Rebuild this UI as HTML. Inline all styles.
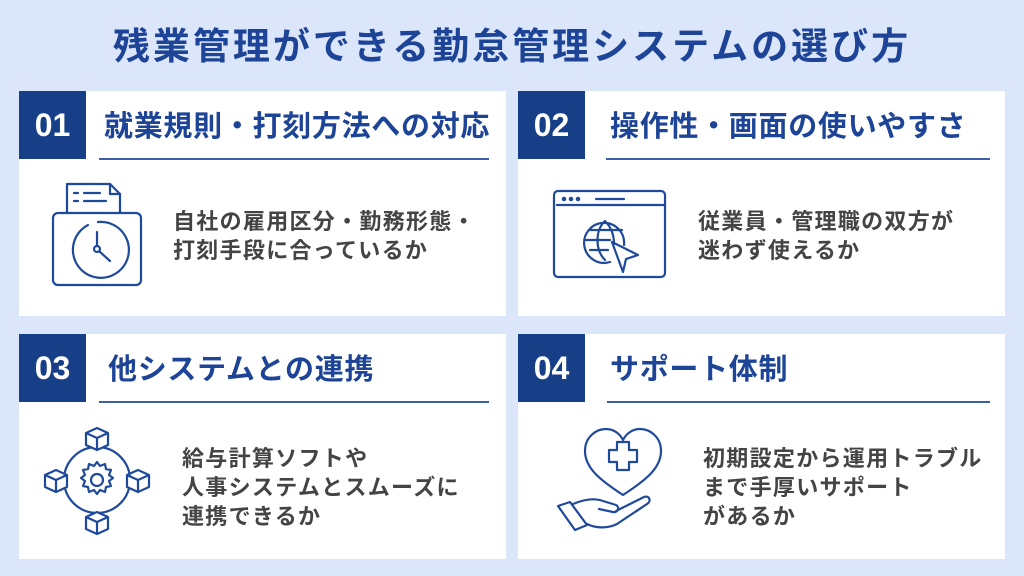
<!DOCTYPE html>
<html><head><meta charset="utf-8"><style>
body{margin:0;width:1024px;height:576px;background:#dce6fb;position:relative;overflow:hidden;font-family:"Liberation Sans","Noto Sans CJK JP",sans-serif}
.t{position:absolute;left:0;width:1024px;top:22px;text-align:center;font-size:37px;font-weight:bold;color:#1d4497;letter-spacing:3px;line-height:50px}
.card{position:absolute;background:#fff;width:487px;height:225px}
.num{position:absolute;left:0;top:0;width:67px;height:68px;background:#173f88;color:#fff;font-size:32px;font-weight:bold;line-height:68px;text-align:center;font-family:"Liberation Sans",sans-serif}
.h{position:absolute;top:16px;font-size:29px;font-weight:bold;color:#1d4497;line-height:40px;white-space:nowrap;letter-spacing:0.7px}
.ln{position:absolute;top:67px;height:2px;background:#3b5fa8}
.b{position:absolute;font-size:22px;color:#444;line-height:29px;font-weight:bold;white-space:nowrap;letter-spacing:1.3px}
svg{position:absolute;left:0;top:0}
</style></head><body>
<div class="t">残業管理ができる勤怠管理システムの選び方</div>

<div class="card" style="left:19px;top:91px">
<div class="num">01</div><div class="h" style="left:85px">就業規則・打刻方法への対応</div>
<div class="ln" style="left:80px;width:390px"></div>
<div class="b" style="left:154px;top:116px">自社の雇用区分・勤務形態・<br>打刻手段に合っているか</div>
</div>
<div class="card" style="left:518px;top:91px">
<div class="num">02</div><div class="h" style="left:92px">操作性・画面の使いやすさ</div>
<div class="ln" style="left:88px;width:384px"></div>
<div class="b" style="left:180px;top:116px">従業員・管理職の双方が<br>迷わず使えるか</div>
</div>
<div class="card" style="left:19px;top:334px">
<div class="num">03</div><div class="h" style="left:89px">他システムとの連携</div>
<div class="ln" style="left:80px;width:390px"></div>
<div class="b" style="left:163px;top:110px">給与計算ソフトや<br>人事システムとスムーズに<br>連携できるか</div>
</div>
<div class="card" style="left:518px;top:334px">
<div class="num">04</div><div class="h" style="left:92px">サポート体制</div>
<div class="ln" style="left:89px;width:383px"></div>
<div class="b" style="left:185px;top:110px">初期設定から運用トラブル<br>まで手厚いサポート<br>があるか</div>
</div>

<svg width="1024" height="576" fill="none" stroke="#1f4a9c" stroke-width="2.2" stroke-linecap="round" stroke-linejoin="round">
<path d="M67 213 V184 h43 l10 10 v19"/><path d="M110 184 v10 h10"/>
<path d="M74 193h4M84 193h16M74 201h4M84 201h22"/>
<rect x="53" y="213" width="88" height="72" rx="5"/>
<path d="M88 225 A28 28 0 1 0 98 222"/>
<path d="M97 232 V246 M99 251 L110 261"/><circle cx="97" cy="249" r="3"/>
<rect x="554" y="191" width="111" height="86" rx="4"/>
<path d="M557 205H665M596 199h28"/>
<circle cx="564" cy="199" r="1.2" fill="#1f4a9c"/><circle cx="571" cy="199" r="1.2" fill="#1f4a9c"/><circle cx="578" cy="199" r="1.2" fill="#1f4a9c"/>
<path d="M610 262 A20 20 0 1 1 624 245"/><path d="M605 221 C595 230 595 250 605 260 M605 221 C612 228 614 236 614 244 M586 240 H610 M590 230 H622 M590 250 H608"/>
<path d="M612 242 L638 255 L626 259 L623 272 Z"/>
<circle cx="97" cy="480" r="33"/>
<circle cx="97" cy="480" r="6"/>
<path d="M97 462 l3 4 5 -2 1 5 5 1 -2 5 4 3 -4 3 2 5 -5 1 -1 5 -5 -2 -3 4 -3 -4 -5 2 -1 -5 -5 -1 2 -5 -4 -3 4 -3 -2 -5 5 -1 1 -5 5 2 z"/>
<g id="cb"><path d="M97 428 l11 5 v12 l-11 5 -11 -5 v-12 z M86 433 l11 5 11 -5 M97 438 v12" fill="#fff"/></g>
<use href="#cb" transform="translate(0,84)"/>
<use href="#cb" transform="translate(-41,42)"/>
<use href="#cb" transform="translate(41,42)"/>
<path d="M623 495 C600 480 585 468 585 451 C585 437 596 429 606 429 C614 429 620 434 623 440 C626 434 632 429 640 429 C650 429 661 437 661 451 C661 468 646 480 623 495 Z"/>
<path d="M617 450 v-8 h12 v8 h8 v12 h-8 v8 h-12 v-8 h-8 v-12 z"/>
<path d="M558 506 l12 -4 17 23 -12 5 z"/>
<path d="M573 504 c12 -5 22 -6 30 -3 l13 4 c4 2 2 8 -3 7 l-14 -3 M616 511 l28 -14 c5 -2 8 4 3 7 l-30 20 c-10 5 -22 4 -30 0"/>
</svg>
</body></html>
